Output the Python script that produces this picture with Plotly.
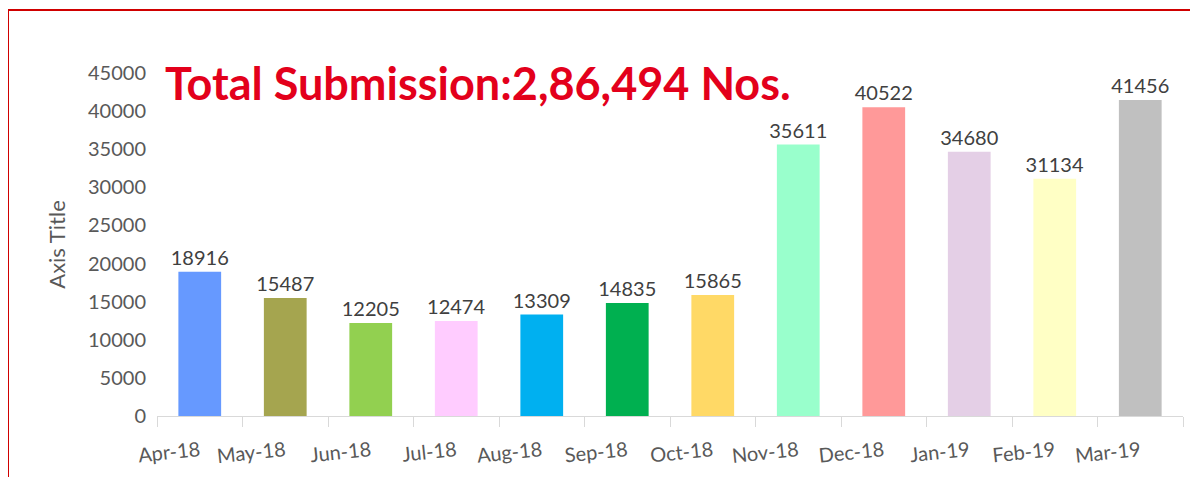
import plotly.graph_objects as go

# monthly submissions
months = ["Apr-18", "May-18", "Jun-18", "Jul-18", "Aug-18", "Sep-18",
          "Oct-18", "Nov-18", "Dec-18", "Jan-19", "Feb-19", "Mar-19"]
submissions = [18916, 15487, 12205, 12474, 13309, 14835,
               15865, 35611, 40522, 34680, 31134, 41456]
bar_colors = ["#6699FF", "#A5A54F", "#92D050", "#FFCCFF", "#00B0F0", "#00B050",
              "#FFD966", "#99FFCC", "#FF9999", "#E4CFE6", "#FFFFC5", "#C0C0C0"]
y_ticks = [0, 5000, 10000, 15000, 20000, 25000, 30000, 35000, 40000, 45000]

# page body has an 8px margin, so the figure is a little smaller than the window
W, H = 1190, 469
ML, MR, MT, MB = 149, 15, 65, 61
pw, ph = W - ML - MR, H - MT - MB

fig = go.Figure(go.Bar(
    x=months,
    y=submissions,
    marker=dict(color=bar_colors, line=dict(width=0)),
    text=[str(v) for v in submissions],
    textposition="outside",
    constraintext="none",
    cliponaxis=False,
    textfont=dict(family="Lato", size=20, color="#404040"),
))

fig.update_layout(
    width=W, height=H,
    margin=dict(l=ML, r=MR, t=MT, b=MB),
    paper_bgcolor="white", plot_bgcolor="white",
    bargap=0.5,
    showlegend=False,
    font=dict(family="Lato", color="#595959"),
)

fig.update_xaxes(
    showline=True, linecolor="#D9D9D9", linewidth=1,
    ticks="outside", tickson="boundaries", ticklen=10, tickcolor="#D9D9D9",
    tickangle=-6, tickfont=dict(size=20, color="#595959"),
    ticklabelstandoff=15, automargin=False,
    showgrid=False,
)
fig.update_yaxes(
    range=[0, 45000], tickvals=y_ticks, tickformat="d",
    showgrid=False, zeroline=False, showline=False,
    tickfont=dict(size=20, color="#595959"),
    ticklabelstandoff=10, automargin=False,
    title=dict(text="Axis Title", font=dict(size=22, color="#595959"), standoff=16),
)

# headline
fig.add_annotation(
    text="<b>Total Submission:2,86,494 Nos.</b>",
    xref="paper", yref="paper",
    x=(155 - ML) / pw, y=(H - MB - 75) / ph,
    xanchor="left", yanchor="middle", showarrow=False,
    font=dict(family="Lato", size=45, color="#E3001B"),
)

# red frame round the picture
fig.add_shape(
    type="rect", xref="paper", yref="paper",
    x0=(0 - ML) / pw, x1=(W + 10 - ML) / pw,
    y0=-(MB + 10) / ph, y1=(H - MB - 2) / ph,
    line=dict(color="#D00000", width=2), fillcolor="rgba(0,0,0,0)",
)

fig.write_html("out.html")
